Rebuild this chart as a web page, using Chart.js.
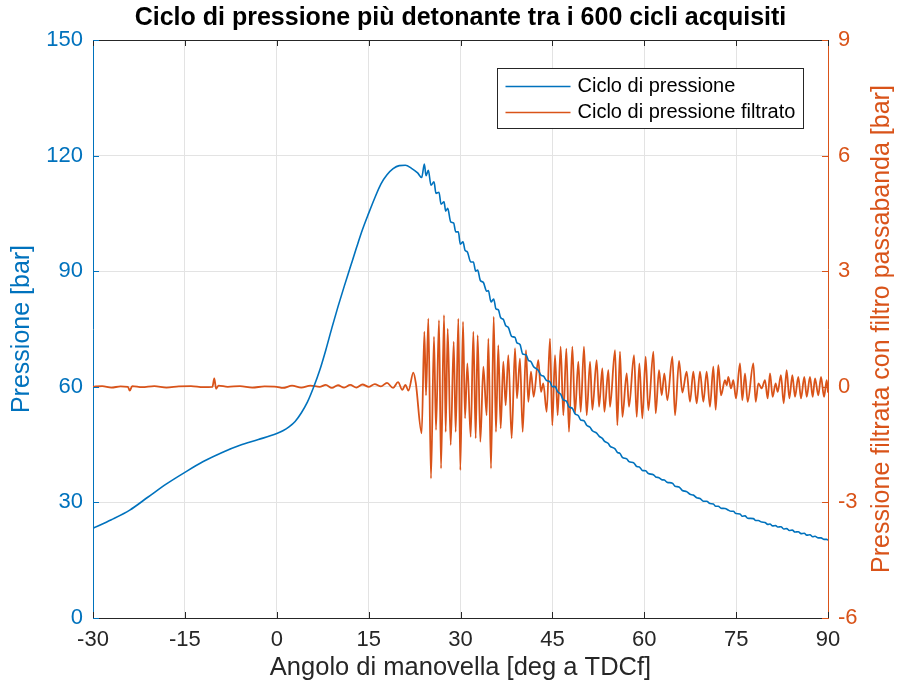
<!DOCTYPE html>
<html>
<head>
<meta charset="utf-8">
<title>Ciclo di pressione</title>
<script src="https://cdn.jsdelivr.net/npm/chart.js@4.4.1/dist/chart.umd.min.js"></script>
<style>
  html, body { margin: 0; padding: 0; background: #ffffff; }
  canvas { display: block; }
</style>
</head>
<body>
<canvas id="pressureChart" width="898" height="691"></canvas>
<script>
// Angolo di manovella [deg a TDCf] e pressione nel cilindro [bar]
var anglePress = [-30, -27, -24, -21, -18, -15, -12, -9, -6, -3, 0, 1, 2, 3, 4, 5, 6, 7, 8, 9, 10, 11, 12, 13, 14, 15, 16, 17, 18, 19, 20, 21, 22, 23,
  23.66, 24.10, 24.37, 24.75, 25.18, 25.67, 26.00, 26.49, 26.82, 27.31, 27.58, 27.91, 28.40, 28.89, 29.21, 29.65, 29.97, 30.41, 30.74, 31.12,
  31.66, 32.10, 32.48, 32.80, 33.24, 33.73, 34.27, 34.55, 34.98, 35.42, 35.79, 36.17, 36.56, 36.99, 37.37, 37.81, 38.35, 38.90, 39.22, 39.71,
  40.15, 40.69, 41.07, 41.51, 41.94, 42.70, 43.14, 43.52, 44.07, 44.61, 44.99, 45.43, 45.86, 46.35, 46.79, 47.28, 47.71, 48.26, 48.69, 49.24,
  49.62, 50.16, 50.60, 51.15, 51.53, 52.23, 52.62, 53.16, 53.49, 54.14, 54.41, 55.23, 55.61, 56.04, 56.43, 57.13, 57.51, 58.33, 58.77, 59.20,
  59.69, 60.23, 60.67, 61.49, 61.87, 62.41, 62.85, 63.28, 63.77, 64.59, 65.02, 65.68, 66.22, 66.92, 67.47, 68.01, 68.56, 69.10, 69.65, 70.19,
  70.73, 71.28, 71.66, 72.09, 72.53, 73.18, 73.73, 74.16, 74.54, 74.98, 75.63, 76.01, 76.45, 76.88, 77.81, 78.19, 78.63, 79.17, 79.71, 80.15,
  80.53, 80.96, 81.45, 81.78, 82.32, 82.76, 83.25, 83.69, 84.18, 84.61, 85.15, 85.59, 86.13, 86.52, 87.06, 87.50, 87.88, 88.42, 88.86, 89.35,
  89.79, 90.00];
var pressione = [23.3, 25.5, 28.0, 31.4, 34.8, 37.8, 40.6, 42.9, 44.8, 46.3, 47.9, 48.6, 49.6, 51.0, 53.2, 56.0, 59.8, 64.2, 69.5, 75.3, 80.8, 86.0, 91.0, 96.0, 100.8, 105.0, 109.0, 112.6, 115.0, 116.6, 117.4, 117.5, 116.7, 115.5,
  114.3, 117.8, 114.8, 116.2, 112.3, 113.2, 110.2, 110.5, 107.4, 108.0, 105.6, 106.3, 102.8, 102.5, 100.2, 100.2, 97.0, 97.6, 95.4, 95.0,
  92.4, 92.4, 90.0, 90.3, 87.6, 87.1, 84.8, 85.0, 82.0, 82.8, 80.2, 80.0, 77.9, 77.5, 75.9, 75.4, 73.1, 72.8, 71.4, 71.0,
  68.5, 68.3, 66.9, 66.5, 65.2, 64.3, 63.0, 62.8, 61.6, 61.3, 60.0, 60.1, 58.7, 58.1, 56.6, 56.3, 54.8, 54.4, 53.0, 52.5,
  51.4, 51.2, 50.0, 49.5, 48.6, 48.0, 47.2, 46.6, 45.9, 45.3, 44.6, 43.9, 43.0, 42.7, 41.7, 41.3, 40.6, 40.2, 39.3, 39.2,
  38.3, 38.2, 37.5, 37.2, 36.6, 36.4, 35.9, 35.8, 35.2, 35.0, 34.2, 34.0, 33.1, 32.8, 32.1, 31.9, 31.2, 31.0, 30.3, 30.3,
  29.7, 29.6, 29.0, 29.0, 28.5, 28.4, 28.0, 27.7, 27.7, 27.1, 27.0, 26.4, 26.5, 25.9, 25.8, 25.3, 25.3, 24.9, 24.8, 24.3,
  24.4, 23.9, 24.0, 23.6, 23.7, 23.1, 23.2, 22.7, 22.8, 22.3, 22.4, 21.9, 22.0, 21.5, 21.6, 21.1, 21.2, 20.8, 20.8, 20.4,
  20.4, 20.2];

// Segnale passabanda [bar]
var angleFilt = [-30, -28.5, -27, -25.5, -24.3, -24.0, -23.6, -22, -20, -18, -16, -14, -12, -10.5, -10.2, -9.9, -9.5, -8, -6, -4, -2, 0,
  1, 2.5, 4, 5.5, 7, 8, 9, 10, 11, 12, 13, 14, 15, 16, 17, 18, 19, 19.8, 20.5, 21.0, 21.5, 22.3, 22.7,
  23.66, 24.10, 24.37, 24.75, 25.18, 25.67, 26.00, 26.49, 26.82, 27.31, 27.58, 27.91, 28.40, 28.89, 29.21, 29.65, 29.97, 30.41, 30.74, 31.12,
  31.66, 32.10, 32.48, 32.80, 33.24, 33.73, 34.27, 34.55, 34.98, 35.42, 35.79, 36.17, 36.56, 36.99, 37.37, 37.81, 38.35, 38.90, 39.22, 39.71,
  40.15, 40.69, 41.07, 41.51, 41.94, 42.70, 43.14, 43.52, 44.07, 44.61, 44.99, 45.43, 45.86, 46.35, 46.79, 47.28, 47.71, 48.26, 48.69, 49.24,
  49.62, 50.16, 50.60, 51.15, 51.53, 52.23, 52.62, 53.16, 53.49, 54.14, 54.41, 55.23, 55.61, 56.04, 56.43, 57.13, 57.51, 58.33, 58.77, 59.20,
  59.69, 60.23, 60.67, 61.49, 61.87, 62.41, 62.85, 63.28, 63.77, 64.59, 65.02, 65.68, 66.22, 66.92, 67.47, 68.01, 68.56, 69.10, 69.65, 70.19,
  70.73, 71.28, 71.66, 72.09, 72.53, 73.18, 73.46, 73.73, 74.16, 74.54, 74.98, 75.63, 76.01, 76.45, 76.88, 77.81, 78.19, 78.63, 79.17, 79.71,
  80.15, 80.53, 80.96, 81.45, 81.78, 82.32, 82.76, 83.25, 83.69, 84.18, 84.61, 85.15, 85.59, 86.13, 86.52, 87.06, 87.50, 87.88, 88.42, 88.86,
  89.35, 89.79, 90.00];
var pressioneFiltrata = [0.0, 0.02, -0.02, 0.01, 0.0, -0.1, 0.02, -0.01, 0.02, -0.02, 0.01, 0.02, -0.01, 0.0, 0.22, -0.05, 0.03, 0.0, 0.02, -0.02, 0.01, 0.0,
  -0.03, 0.03, -0.02, 0.03, 0.0, 0.05, -0.03, 0.04, -0.02, 0.05, -0.02, 0.06, 0.0, 0.07, 0.01, 0.1, -0.03, 0.12, -0.08, 0.05, -0.1, 0.37, 0.1,
  -1.21, 1.43, -0.22, 1.77, -2.38, 1.30, -1.12, 1.73, -2.12, 1.86, -1.17, 1.51, -1.51, 1.17, -1.17, 1.77, -2.16, 1.69, -0.82, 0.61,
  -1.30, 1.43, -1.34, 1.34, -1.43, 0.52, -0.74, 1.25, -2.12, 1.82, -1.17, 1.08, -1.08, 0.65, -0.48, 0.82, -1.34, 1.00, -0.30, 0.73,
  -1.17, 0.95, -0.39, 0.39, -0.26, 0.69, -0.13, 0.09, -0.65, 1.25, -1.00, 0.82, -0.74, 1.04, -0.74, 0.99, -1.17, 1.04, -0.69, 0.65,
  -0.65, 1.04, -0.74, 0.65, -0.60, 0.69, -0.52, 0.48, -0.65, 0.43, -0.52, 0.95, -1.00, 0.91, -0.78, 0.35, -0.52, 0.82, -0.78, 0.61,
  -0.82, 0.78, -0.61, 0.91, -0.69, 0.43, -0.22, 0.35, -0.35, 0.78, -0.74, 0.67, -0.15, 0.39, -0.39, 0.39, -0.43, 0.39, -0.39, 0.39,
  -0.52, 0.52, -0.60, 0.56, -0.22, 0.17, 0.04, 0.26, -0.04, 0.17, -0.30, 0.61, -0.35, 0.35, -0.39, 0.61, -0.39, 0.09, -0.04, 0.17,
  -0.30, 0.35, -0.26, 0.09, -0.13, 0.30, -0.43, 0.43, -0.30, 0.30, -0.26, 0.26, -0.30, 0.26, -0.26, 0.26, -0.26, 0.22, -0.22, 0.26,
  -0.26, 0.17, -0.15];

var titolo = "Ciclo di pressione più detonante tra i 600 cicli acquisiti";
var labelPress = "Ciclo di pressione";
var labelFilt = "Ciclo di pressione filtrato";
var xTitle = "Angolo di manovella [deg a TDCf]";
var yTitle = "Pressione [bar]";
var y1Title = "Pressione filtrata con filtro passabanda [bar]";

var BLUE = "#0072BD";
var ORANGE = "#D95319";
var AXIS_COLOR = "#262626";
var GRID_COLOR = "#e3e3e3";
var FONT = "'Liberation Sans', Arial, Helvetica, sans-serif";
var TICK_LEN = 6;

function ToPoints(xs, ys) {
  var pts = [];
  for (let i = 0; i < xs.length; i++) {
    pts.push({ x: xs[i], y: ys[i] });
  }
  return pts;
}

// Box, inward ticks, titles and legend drawn over the plot area
var boxPlugin = {
  id: "boxAndLegend",
  afterDraw: function (chart) {
    var ctx = chart.ctx;
    var area = chart.chartArea;
    var sx = chart.scales.x, sy = chart.scales.y, sy1 = chart.scales.y1;

    ctx.save();
    ctx.lineWidth = 1;

    // top edge of the box
    ctx.strokeStyle = AXIS_COLOR;
    ctx.beginPath();
    ctx.moveTo(area.left, Math.round(area.top) + 0.5);
    ctx.lineTo(area.right, Math.round(area.top) + 0.5);
    // x ticks, bottom and top
    sx.ticks.forEach(function (t) {
      var px = Math.round(sx.getPixelForValue(t.value)) + 0.5;
      ctx.moveTo(px, area.bottom);
      ctx.lineTo(px, area.bottom - TICK_LEN);
      ctx.moveTo(px, area.top);
      ctx.lineTo(px, area.top + TICK_LEN);
    });
    ctx.stroke();

    ctx.strokeStyle = BLUE;
    ctx.beginPath();
    sy.ticks.forEach(function (t) {
      var py = Math.round(sy.getPixelForValue(t.value)) + 0.5;
      ctx.moveTo(area.left, py);
      ctx.lineTo(area.left + TICK_LEN, py);
    });
    ctx.stroke();

    ctx.strokeStyle = ORANGE;
    ctx.beginPath();
    sy1.ticks.forEach(function (t) {
      var py = Math.round(sy1.getPixelForValue(t.value)) + 0.5;
      ctx.moveTo(area.right, py);
      ctx.lineTo(area.right - TICK_LEN, py);
    });
    ctx.stroke();

    // title centred over the axes
    ctx.font = "bold 25px " + FONT;
    ctx.fillStyle = "#000000";
    ctx.textAlign = "center";
    ctx.textBaseline = "middle";
    ctx.fillText(titolo, (area.left + area.right) / 2, area.top - 22);

    // right axis title, reading bottom to top like the left one
    ctx.save();
    ctx.translate(sy1.right - 16, (area.top + area.bottom) / 2);
    ctx.rotate(-Math.PI / 2);
    ctx.font = "25px " + FONT;
    ctx.fillStyle = ORANGE;
    ctx.fillText(y1Title, 0, 0);
    ctx.restore();

    // legend
    var lw = 306, lh = 60;
    var lx = Math.round(area.right - 25 - lw) + 0.5;
    var ly = Math.round(area.top + 28) + 0.5;
    ctx.fillStyle = "#ffffff";
    ctx.fillRect(lx, ly, lw, lh);
    ctx.strokeStyle = AXIS_COLOR;
    ctx.lineWidth = 1;
    ctx.strokeRect(lx, ly, lw, lh);

    var entries = [
      { text: labelPress, color: BLUE },
      { text: labelFilt, color: ORANGE },
    ];
    ctx.font = "20px " + FONT;
    ctx.textBaseline = "middle";
    ctx.textAlign = "left";
    entries.forEach(function (e, i) {
      var cy = ly + 18 + i * 26;
      ctx.strokeStyle = e.color;
      ctx.lineWidth = 1.6;
      ctx.beginPath();
      ctx.moveTo(lx + 8, cy);
      ctx.lineTo(lx + 73, cy);
      ctx.stroke();
      ctx.fillStyle = "#000000";
      ctx.fillText(e.text, lx + 80, cy);
    });

    ctx.restore();
  },
};

var ctx = document.getElementById("pressureChart").getContext("2d");
var chart = new Chart(ctx, {
  type: "line",
  data: {
    datasets: [
      {
        label: labelPress,
        data: ToPoints(anglePress, pressione),
        borderColor: BLUE,
        borderWidth: 1.6,
        cubicInterpolationMode: "monotone",
        yAxisID: "y",
      },
      {
        label: labelFilt,
        data: ToPoints(angleFilt, pressioneFiltrata),
        borderColor: ORANGE,
        borderWidth: 1.8,
        cubicInterpolationMode: "monotone",
        yAxisID: "y1",
      },
    ],
  },
  options: {
    responsive: false,
    animation: false,
    devicePixelRatio: 1,
    parsing: false,
    layout: { padding: { top: 40, left: 0, right: 0, bottom: 0 } },
    elements: {
      point: { radius: 0 },
    },
    plugins: {
      legend: { display: false },
      tooltip: { enabled: false },
      title: { display: false },
    },
    scales: {
      x: {
        type: "linear",
        min: -30,
        max: 90,
        ticks: {
          stepSize: 15,
          color: AXIS_COLOR,
          font: { family: FONT, size: 22 },
          padding: 9,
        },
        grid: { color: GRID_COLOR, drawTicks: false },
        border: { color: AXIS_COLOR, width: 1 },
        title: {
          display: true,
          text: xTitle,
          color: AXIS_COLOR,
          font: { family: FONT, size: 25.5 },
          padding: { top: 0, bottom: 8 },
        },
        afterFit: function (scale) {
          scale.height = 73;
        },
      },
      y: {
        position: "left",
        min: 0,
        max: 150,
        ticks: {
          stepSize: 30,
          color: BLUE,
          font: { family: FONT, size: 22 },
          padding: 10,
        },
        grid: { color: GRID_COLOR, drawTicks: false },
        border: { color: BLUE, width: 1 },
        title: {
          display: true,
          text: yTitle,
          color: BLUE,
          font: { family: FONT, size: 25 },
          padding: { top: 7, bottom: 0 },
        },
        afterFit: function (scale) {
          scale.width = 93;
        },
      },
      y1: {
        position: "right",
        min: -6,
        max: 9,
        ticks: {
          stepSize: 3,
          color: ORANGE,
          font: { family: FONT, size: 22 },
          padding: 10,
        },
        grid: { drawOnChartArea: false, drawTicks: false },
        border: { color: ORANGE, width: 1 },
        afterFit: function (scale) {
          scale.width = 70;
        },
      },
    },
  },
  plugins: [boxPlugin],
});
</script>
</body>
</html>
